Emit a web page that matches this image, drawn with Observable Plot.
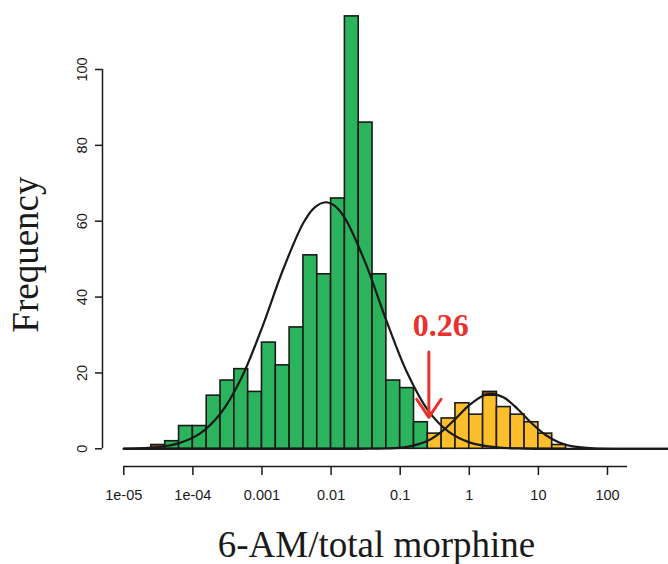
<!DOCTYPE html>
<html><head><meta charset="utf-8">
<script src="https://cdn.jsdelivr.net/npm/d3@7"></script>
<script src="https://cdn.jsdelivr.net/npm/@observablehq/plot@0.6"></script>
<style>html,body{margin:0;padding:0;background:#fff;overflow:hidden}</style>
</head><body><div id="chart"></div>
<script>
// Histogram bin edges (log10 of 6-AM/total morphine)
const binEdgesLog10 = [-4.6,-4.4,-4.2,-4.0,-3.8,-3.6,-3.4,-3.2,-3.0,-2.8,-2.6,-2.4,-2.2,-2.0,-1.8,-1.6,-1.4,-1.2,-1.0,-0.8,-0.6,-0.4,-0.2,0.0,0.2,0.4,0.6,0.8,1.0,1.2,1.4];
// Counts per bin
const greenCounts  = [0,2,6,6,14,18,21,15,28,22,32,51,46,66,114,86,46,18,16,7,0,0,0,0,0,0,0,0,0,0];
const orangeCounts = [0,0,0,0,0,0,0,0,0,0,0,0,0,0,0,0,0,0,0,0,4,8,12,9,14,11,9,7,4,1];
const brownCounts  = [1,0,0,0,0,0,0,0,0,0,0,0,0,0,0,0,0,0,0,0,0,0,0,0,1,0,0,0,0,0];

// Fitted normal curves, x in log10, y in frequency
const greenCurveX = [-5.0,-4.5,-4.2,-3.9,-3.6,-3.3,-3.0,-2.7,-2.4,-2.24,-2.08,-1.95,-1.8,-1.5,-1.2,-0.9,-0.6,-0.3,0.0,0.4,0.8,1.5,3.0];
const greenCurveY = [0.05,0.47,1.5,4.0,9.3,18.6,31.9,47.0,59.6,63.6,65,64.1,60.8,48.9,33.8,20.1,10.2,4.5,1.7,0.36,0.06,0,0];
const orangeCurveX = [-5.0,-1.6,-1.2,-0.9,-0.6,-0.4,-0.2,0.0,0.2,0.32,0.5,0.7,0.9,1.1,1.3,1.5,1.8,2.2,3.0];
const orangeCurveY = [0,0.003,0.08,0.5,2.1,4.5,7.9,11.5,14.0,14.5,13.5,10.5,6.8,3.7,1.65,0.62,0.1,0,0];

// Axis ticks
const xTicks = [1e-5,1e-4,1e-3,1e-2,1e-1,1,10,100];
const xTickLabels = ["1e-05","1e-04","0.001","0.01","0.1","1","10","100"];
const yTicks = [0,20,40,60,80,100];

// Annotation
const cutoff = 0.26;
const cutoffLabel = "0.26";

// ---- build ----
const colors = {low: "#2cb35d", high: "#fdbe2c", overlap: "#8a531c"};
const rows = [];
binEdgesLog10.slice(0, -1).forEach((lo, i) => {
  const x1 = 10 ** lo, x2 = 10 ** binEdgesLog10[i + 1];
  let base = 0;
  [["low", greenCounts[i]], ["high", orangeCounts[i]], ["overlap", brownCounts[i]]].forEach(([s, c]) => {
    if (c > 0) { rows.push({x1, x2, y1: base, y2: base + c, s}); base += c; }
  });
});
const greenCurve = greenCurveX.map((x, i) => ({x: 10 ** x, y: greenCurveY[i]}));
const orangeCurve = orangeCurveX.map((x, i) => ({x: 10 ** x, y: orangeCurveY[i]}));

const xLogMin = -5.308, xLogMax = 2.883, xAxisEndLog = 2.29;
const yMin = -4.667, yMax = 116.87;
const serif = "'Liberation Serif', 'Times New Roman', serif";
const ink = "#1a1a1a";

const chart = Plot.plot({
  width: 668, height: 564,
  marginLeft: 102, marginRight: 0, marginTop: 5, marginBottom: 98,
  style: {fontFamily: "'Liberation Sans', Arial, sans-serif", fontSize: "14.5px", background: "#fff", color: ink},
  x: {type: "log", domain: [10 ** xLogMin, 10 ** xLogMax]},
  y: {domain: [yMin, yMax]},
  marks: [
    Plot.rect(rows, {x1: "x1", x2: "x2", y1: "y1", y2: "y2", fill: d => colors[d.s], stroke: ink, strokeWidth: 1.6}),
    Plot.line(greenCurve, {x: "x", y: "y", curve: "catmull-rom", stroke: ink, strokeWidth: 2.2, clip: true}),
    Plot.line(orangeCurve, {x: "x", y: "y", curve: "catmull-rom", stroke: ink, strokeWidth: 2.2, clip: true}),
    // x axis
    Plot.ruleY([yMin], {x1: xTicks[0], x2: 10 ** xAxisEndLog, stroke: ink, strokeWidth: 1.5}),
    Plot.axisX({ticks: xTicks, tickSize: 9, tickPadding: 14, strokeWidth: 1.5, stroke: ink,
      tickFormat: d => xTickLabels[xTicks.indexOf(d)], label: null, fontSize: 14.5}),
    // y axis
    Plot.ruleX([10 ** xLogMin], {y1: yTicks[0], y2: yTicks[yTicks.length - 1], stroke: ink, strokeWidth: 1.5}),
    Plot.axisY({ticks: yTicks, tickSize: 7, strokeWidth: 1.5, stroke: ink, tickFormat: () => "", label: null}),
    Plot.text(yTicks, {y: d => d, text: d => String(d), frameAnchor: "left", dx: -16, rotate: -90,
      textAnchor: "middle", lineAnchor: "bottom", fontSize: 14.5, fill: ink}),
    // axis titles
    Plot.text(["Frequency"], {y: 51.2, frameAnchor: "left", dx: -65, rotate: -90, textAnchor: "middle",
      lineAnchor: "bottom", fontSize: 37, fontFamily: serif, fill: ink}),
    Plot.text(["6-AM/total morphine"], {x: 10 ** -1.343, frameAnchor: "bottom", dy: 90, textAnchor: "middle",
      lineAnchor: "bottom", fontSize: 37, fontFamily: serif, fill: ink}),
    // cutoff annotation
    Plot.arrow([cutoff], {x1: d => d, x2: d => d, y1: 25.5, y2: 8.3, stroke: "#e8322b", strokeWidth: 3,
      headLength: 14, headAngle: 68}),
    Plot.text([cutoffLabel], {x: cutoff, y: 32.4, dx: 12, textAnchor: "middle", lineAnchor: "middle",
      fontSize: 32, fontWeight: "bold", fontFamily: serif, fill: "#e8322b"})
  ]
});
document.getElementById("chart").appendChild(chart);
</script></body></html>
